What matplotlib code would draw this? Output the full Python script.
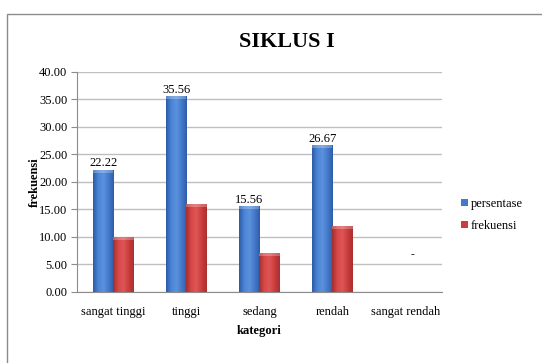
import numpy as np
import matplotlib
matplotlib.use("Agg")
from matplotlib import pyplot as plt
from matplotlib.colors import LinearSegmentedColormap
from matplotlib.patches import Rectangle

kategori = ["sangat tinggi", "tinggi", "sedang", "rendah", "sangat rendah"]
persentase = [22.22, 35.56, 15.56, 26.67, 0]
frekuensi = [10, 16, 7, 12, 0]
label_persentase = ["22.22", "35.56", "15.56", "26.67", "-"]

plt.rcParams['font.family'] = ['Liberation Serif', 'DejaVu Serif']

fig = plt.figure(figsize=(5.42, 3.63), dpi=100)
ax = fig.add_axes([0.142, 0.1956, 0.6735, 0.6061])

# bingkai luar
fig.patches.append(Rectangle((7 / 542, -0.05), 1.1, 0.05 + 1 - 14 / 363,
                             transform=fig.transFigure, fill=False,
                             edgecolor='#8c8c8c', linewidth=1.0))

lebar = 0.28
x = np.arange(len(kategori))

biru = LinearSegmentedColormap.from_list('biru', ['#2d5ba6', '#4b84d6', '#5c92dc', '#4479cc', '#2f5ea8'])
merah = LinearSegmentedColormap.from_list('merah', ['#a22e2e', '#d84848', '#de5656', '#cc3c3c', '#a83030'])
grad = np.linspace(0, 1, 64).reshape(1, -1)


def bar_gradasi(xs, vals, cmap, base, label):
    bars = ax.bar(xs, vals, width=lebar, color=base, label=label, zorder=2, linewidth=0)
    for b in bars:
        h = b.get_height()
        if h <= 0:
            continue
        x0 = b.get_x()
        im = ax.imshow(grad, cmap=cmap, aspect='auto', zorder=3,
                       extent=(x0, x0 + b.get_width(), 0, h))
        im.set_clip_path(b)
        # tepi atas yang lebih terang
        ax.add_patch(Rectangle((x0, h - 0.5), b.get_width(), 0.5,
                               facecolor='white', alpha=0.25, linewidth=0, zorder=4))
    return bars


bar_gradasi(x - lebar / 2, persentase, biru, '#4479cc', 'persentase')
bar_gradasi(x + lebar / 2, frekuensi, merah, '#cc3c3c', 'frekuensi')

for i, v in enumerate(persentase):
    if v > 0:
        ax.text(x[i] - lebar / 2, v + 0.1, label_persentase[i], ha='center', va='bottom', fontsize=9, zorder=5)
    else:
        ax.text(x[i] + 0.09, 6.0, label_persentase[i], ha='center', va='bottom', fontsize=8, zorder=5)

ax.set_xlim(-0.5, len(kategori) - 0.5)
ax.set_ylim(0, 40)
ax.set_yticks(np.arange(0, 41, 5))
ax.set_yticklabels(["%.2f" % t for t in np.arange(0, 41, 5)], fontsize=9)
ax.set_xticks(x)
ax.set_xticklabels(kategori, fontsize=9)
ax.tick_params(axis='x', length=0, pad=10)
ax.tick_params(axis='y', length=4, color='#8c8c8c', pad=3)
ax.yaxis.grid(True, color='#bfbfbf', linewidth=1.0, zorder=0)
ax.set_axisbelow(True)
for s in ['top', 'right']:
    ax.spines[s].set_visible(False)
for s in ['left', 'bottom']:
    ax.spines[s].set_color('#8c8c8c')

ax.set_xlabel('kategori', fontsize=9, fontweight='bold', labelpad=5)
ax.set_ylabel('frekuensi', fontsize=9, fontweight='bold')
ax.yaxis.set_label_coords(-0.10, 0.5)

fig.text(287 / 542, 1 - 42 / 363, 'SIKLUS I', ha='center', va='center', fontsize=16, fontweight='bold')

fig.legend(loc='center left', bbox_to_anchor=(455 / 542, 1 - 215 / 363), frameon=False,
           fontsize=9, handlelength=0.55, handleheight=0.55, handletextpad=0.2,
           labelspacing=0.8, borderpad=0)

fig.savefig('out.png', dpi=100)
